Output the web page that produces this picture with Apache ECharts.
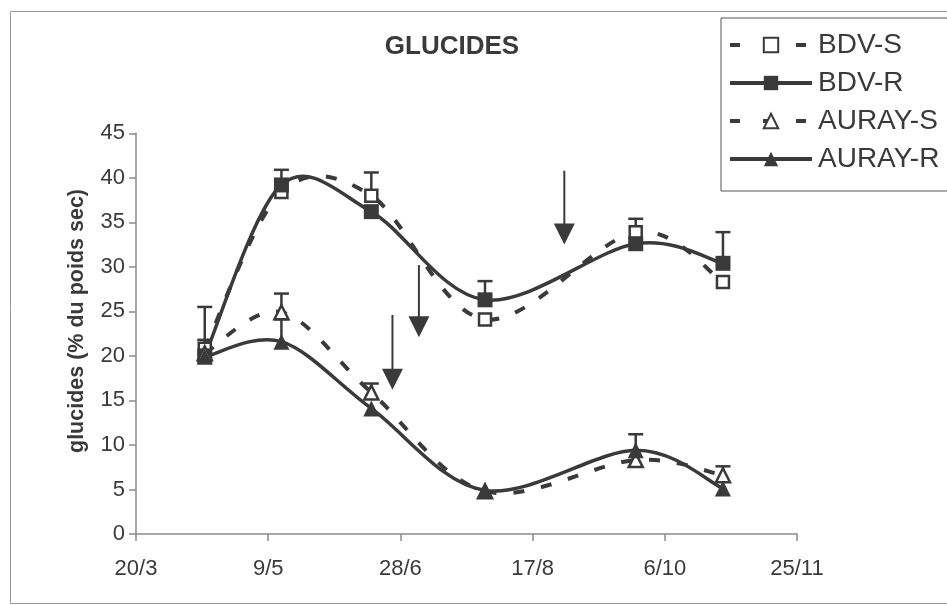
<!DOCTYPE html>
<html>
<head>
<meta charset="utf-8">
<script src="https://cdn.jsdelivr.net/npm/echarts@6/dist/echarts.min.js"></script>
<style>
  html, body { margin: 0; padding: 0; background: #fff; }
  #chart { width: 947px; height: 605px; }
</style>
</head>
<body>
<div id="chart"></div>
<script>
// Axis ticks (day/month) and sampling dates
const tickLabels = ['20/3', '9/5', '28/6', '17/8', '6/10', '25/11'];
const sampleDates = ['15/4', '14/5', '17/6', '30/7', '25/9', '28/10'];

// Carbohydrate content, % of dry weight
const bdvS   = [20.8, 38.4, 38.0, 24.1, 33.9, 28.3];
const bdvR   = [20.0, 39.2, 36.2, 26.3, 32.6, 30.4];
const aurayS = [20.3, 24.9, 15.9, 4.8, 8.3, 6.6];
const aurayR = [19.9, 21.6, 14.1, 4.9, 9.4, 5.1];

// Upper error (standard deviation), 0 = not drawn
const bdvSErr   = [4.7, 0, 2.6, 0, 1.5, 0];
const bdvRErr   = [1.8, 1.7, 0, 2.1, 0, 3.5];
const auraySErr = [0, 2.1, 1.0, 0, 0, 1.0];
const aurayRErr = [0, 2.5, 0, 0, 1.8, 0];

// Event arrows: date, start value, tip value
const arrowDates = ['29/8', '5/7', '25/6'];
const arrowFrom  = [40.8, 30.2, 24.6];
const arrowTo    = [32.5, 22.1, 16.2];

const INK = '#3a3a3a';
const AXIS = '#8a8a8a';
const FONT = '"Liberation Sans", Arial, sans-serif';
const DASH = [11, 17];

function dayOf(s) {
  const [d, m] = s.split('/').map(Number);
  return (Date.UTC(2001, m - 1, d) - Date.UTC(2001, 2, 20)) / 864e5;
}
const tickDays = tickLabels.map(dayOf);
const xs = sampleDates.map(dayOf);

function pairs(vals) { return vals.map((v, i) => [xs[i], v]); }
function errData(vals, errs) {
  const out = [];
  vals.forEach((v, i) => { if (errs[i] > 0) out.push([xs[i], v, v + errs[i]]); });
  return out;
}

const allErr = [].concat(
  errData(bdvS, bdvSErr), errData(bdvR, bdvRErr),
  errData(aurayS, auraySErr), errData(aurayR, aurayRErr)
);
const arrowData = arrowDates.map((d, i) => [dayOf(d), arrowFrom[i], arrowTo[i]]);

const openStyle = { color: '#fff', borderColor: INK, borderWidth: 2.5 };
const filledStyle = { color: INK, borderColor: INK, borderWidth: 0 };

// Spreadsheet-style smoothed curve: cubic Bezier segments with
// Catmull-Rom tangents (1/6 of the neighbour chord), in pixel space.
function curveSeries(vals, dashed) {
  const data = pairs(vals);
  return {
    type: 'custom', data, z: 2, silent: true,
    renderItem(params, api) {
      if (params.dataIndex !== 0) return { type: 'group', children: [] };
      const p = data.map(d => api.coord(d));
      const n = p.length;
      let d = 'M' + p[0][0] + ' ' + p[0][1];
      for (let i = 0; i < n - 1; i++) {
        const a = p[Math.max(i - 1, 0)], b = p[i], c = p[i + 1], e = p[Math.min(i + 2, n - 1)];
        const c1x = b[0] + (c[0] - a[0]) / 6, c1y = b[1] + (c[1] - a[1]) / 6;
        const c2x = c[0] - (e[0] - b[0]) / 6, c2y = c[1] - (e[1] - b[1]) / 6;
        d += ' C' + c1x + ' ' + c1y + ' ' + c2x + ' ' + c2y + ' ' + c[0] + ' ' + c[1];
      }
      return {
        type: 'path', shape: { pathData: d },
        style: { fill: null, stroke: INK, lineWidth: dashed ? 4 : 3.5, lineDash: dashed ? DASH : null, lineCap: 'butt' }
      };
    }
  };
}

// Marker series (the curve itself is drawn by curveSeries)
function markerSeries(name, vals, symbol, size, filled) {
  return {
    name, type: 'line', data: pairs(vals),
    symbol, symbolSize: size, showSymbol: true, z: 3,
    lineStyle: { color: INK, width: 3.5, opacity: 0 },
    itemStyle: filled ? filledStyle : openStyle,
    emphasis: { disabled: true }, animation: false
  };
}

const chart = echarts.init(document.getElementById('chart'), null, { renderer: 'canvas' });
chart.setOption({
  backgroundColor: '#fff',
  animation: false,
  title: {
    text: 'GLUCIDES', left: 452, top: 34, textAlign: 'center', padding: 0,
    textStyle: { fontFamily: FONT, fontWeight: 'bold', fontSize: 26, color: INK }
  },
  legend: {
    orient: 'vertical', left: 721, top: 18,
    padding: [13, 40, 18, 7], itemGap: 10,
    itemWidth: 82, itemHeight: 18,
    borderColor: '#555', borderWidth: 1, borderRadius: 0,
    textStyle: { fontFamily: FONT, fontSize: 28, color: INK, padding: [0, 0, 0, 1] },
    data: [
      { name: 'BDV-S', lineStyle: { type: [10, 23], width: 4, opacity: 1, color: INK } },
      { name: 'BDV-R', lineStyle: { type: 'solid', width: 4, opacity: 1, color: INK } },
      { name: 'AURAY-S', lineStyle: { type: [10, 23], width: 4, opacity: 1, color: INK } },
      { name: 'AURAY-R', lineStyle: { type: 'solid', width: 4, opacity: 1, color: INK } }
    ],
    selectedMode: false
  },
  grid: { left: 136, top: 133.3, width: 661, height: 400.7, containLabel: false },
  xAxis: {
    type: 'value', min: tickDays[0], max: tickDays[tickDays.length - 1],
    interval: tickDays[1] - tickDays[0],
    axisLine: { show: true, onZero: false, lineStyle: { color: AXIS, width: 1.5 } },
    axisTick: { show: true, length: 7, lineStyle: { color: AXIS, width: 1.5 } },
    splitLine: { show: false },
    axisLabel: {
      margin: 24, fontFamily: FONT, fontSize: 22, color: INK,
      formatter: v => { const i = tickDays.indexOf(Math.round(v)); return i >= 0 ? tickLabels[i] : ''; }
    }
  },
  yAxis: {
    type: 'value', min: 0, max: 45, interval: 5,
    axisLine: { show: true, lineStyle: { color: AXIS, width: 1.5 } },
    axisTick: { show: true, length: 7, lineStyle: { color: AXIS, width: 1.5 } },
    splitLine: { show: false },
    axisLabel: { margin: 11, fontFamily: FONT, fontSize: 22, color: INK }
  },
  graphic: [
    {
      type: 'rect', left: 8, top: 9, z: -1, silent: true,
      shape: { width: 945, height: 592 },
      style: { fill: 'none', stroke: '#9a9a9a', lineWidth: 1 }
    },
    {
      type: 'text', x: 77, y: 321, rotation: Math.PI / 2, silent: true,
      style: {
        text: 'glucides (% du poids sec)', fill: INK,
        font: 'bold 21.5px ' + FONT, align: 'center', verticalAlign: 'middle'
      }
    }
  ],
  series: [
    {
      type: 'custom', name: 'errors', data: allErr, z: 1, silent: true,
      renderItem(params, api) {
        const p0 = api.coord([api.value(0), api.value(1)]);
        const p1 = api.coord([api.value(0), api.value(2)]);
        const cap = 7.5;
        return {
          type: 'group', children: [
            { type: 'line', shape: { x1: p0[0], y1: p0[1], x2: p1[0], y2: p1[1] }, style: { stroke: INK, lineWidth: 2.5 } },
            { type: 'line', shape: { x1: p1[0] - cap, y1: p1[1], x2: p1[0] + cap, y2: p1[1] }, style: { stroke: INK, lineWidth: 2.5 } }
          ]
        };
      }
    },
    {
      type: 'custom', name: 'arrows', data: arrowData, z: 1, silent: true,
      renderItem(params, api) {
        const top = api.coord([api.value(0), api.value(1)]);
        const tip = api.coord([api.value(0), api.value(2)]);
        const hw = 10.5, hh = 21;
        return {
          type: 'group', children: [
            { type: 'line', shape: { x1: top[0], y1: top[1], x2: tip[0], y2: tip[1] - hh + 1 }, style: { stroke: INK, lineWidth: 2 } },
            { type: 'polygon', shape: { points: [[tip[0] - hw, tip[1] - hh], [tip[0] + hw, tip[1] - hh], [tip[0], tip[1]]] }, style: { fill: INK } }
          ]
        };
      }
    },
    curveSeries(bdvS, true),
    curveSeries(bdvR, false),
    curveSeries(aurayS, true),
    curveSeries(aurayR, false),
    markerSeries('BDV-S', bdvS, 'rect', 12, false),
    markerSeries('BDV-R', bdvR, 'rect', 15, true),
    markerSeries('AURAY-S', aurayS, 'triangle', 14, false),
    markerSeries('AURAY-R', aurayR, 'triangle', 16, true)
  ]
});
</script>
</body>
</html>
